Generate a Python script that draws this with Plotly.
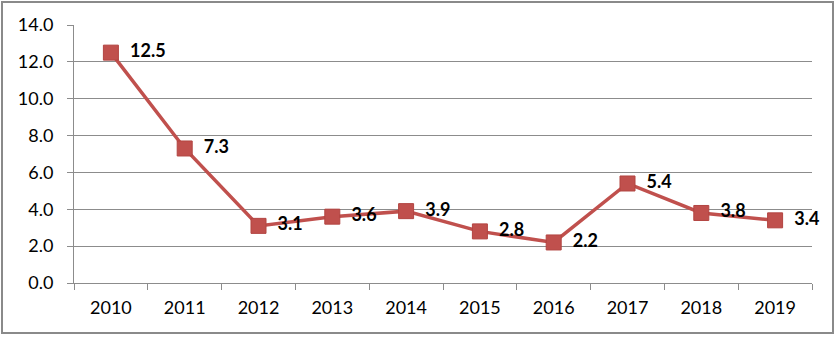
import plotly.graph_objects as go

years = ["2010", "2011", "2012", "2013", "2014", "2015", "2016", "2017", "2018", "2019"]
values = [12.5, 7.3, 3.1, 3.6, 3.9, 2.8, 2.2, 5.4, 3.8, 3.4]

W, H = 838, 338
L, R, T, B = 74, 26, 25, 55
pw, ph = W - L - R, H - T - B

line_color = "#C0504D"
grid_color = "#8C8C8C"
font_family = "Lato, Carlito, 'Open Sans', sans-serif"

fig = go.Figure()
fig.add_trace(go.Scatter(
    x=years, y=values,
    mode="lines+markers+text",
    line=dict(color=line_color, width=3.5),
    marker=dict(symbol="square", size=15, color=line_color,
                line=dict(color="#B24441", width=1)),
    text=["\u00a0\u00a0" + f"{v:.1f}" for v in values],
    textposition="middle right",
    textfont=dict(family=font_family, size=18, color="#000000", weight="bold"),
    cliponaxis=False,
    hoverinfo="skip",
))

# outer chart border
fig.add_shape(type="rect", xref="paper", yref="paper",
              x0=(2 - L) / pw, x1=(833 - L) / pw,
              y0=(T + ph - 333) / ph, y1=(T + ph - 2) / ph,
              line=dict(color="#8A8A8A", width=2), layer="below")

fig.update_layout(
    width=W, height=H,
    margin=dict(l=L, r=R, t=T, b=B, pad=0),
    paper_bgcolor="white", plot_bgcolor="white",
    showlegend=False,
    font=dict(family=font_family, size=18, color="#000000"),
    xaxis=dict(
        type="category", range=[-0.5, 9.5],
        tickson="boundaries", ticks="outside", ticklen=6,
        tickcolor=grid_color, showline=True, linecolor=grid_color,
        showgrid=False, tickfont=dict(size=18), fixedrange=True,
        ticklabelstandoff=8,
    ),
    yaxis=dict(
        range=[0, 14], dtick=2, tickformat=".1f",
        ticks="outside", ticklen=6, tickcolor=grid_color,
        showline=True, linecolor=grid_color,
        showgrid=True, gridcolor=grid_color, gridwidth=1,
        zeroline=False, tickfont=dict(size=18), fixedrange=True,
        ticklabelstandoff=10,
    ),
)

fig.write_html("out.html")
